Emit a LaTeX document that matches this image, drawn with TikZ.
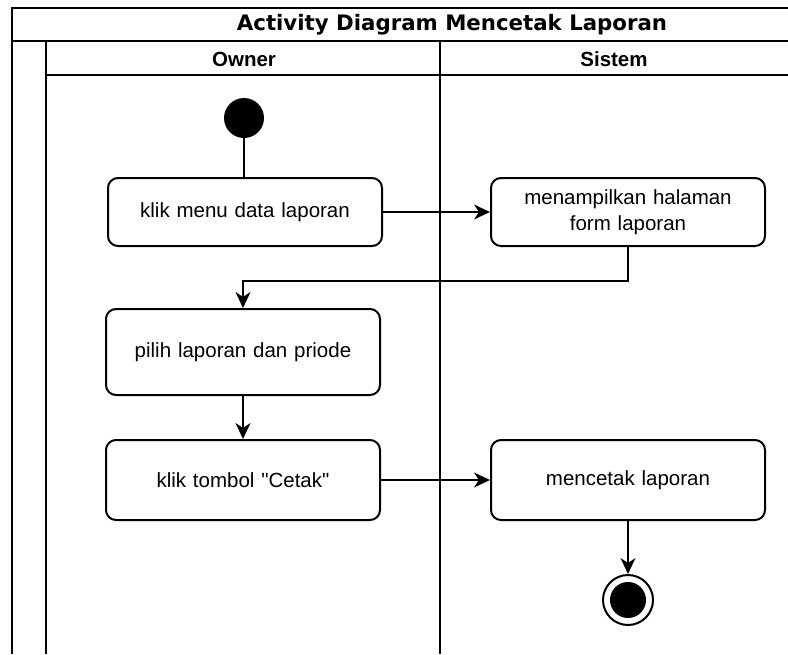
\documentclass[tikz,border=0pt]{standalone}
\usepackage{fontspec}
\setmainfont{Liberation Sans}
\newfontfamily\titlefont{DejaVu Sans}
\usetikzlibrary{arrows.meta}
\begin{document}
\begin{tikzpicture}[x=1pt,y=-1pt,
  frame/.style={line width=2pt, black},
  actbox/.style={draw, line width=2pt, rounded corners=10pt, minimum width=274pt,
    text width=260pt, align=center, font=\fontsize{20.5}{26}\selectfont, inner sep=0pt},
  flow/.style={line width=2pt, -{Stealth[length=16pt,width=15pt,inset=5pt]}},
  plain/.style={line width=2pt},
  lanehead/.style={font=\fontsize{20.5}{24}\selectfont\bfseries},
]
\useasboundingbox (0,0) rectangle (788,654);
\fill[white] (0,0) rectangle (788,654);

% pool frame, title row and lane headers
\draw[frame] (12,654) -- (12,8) -- (788,8);
\draw[frame] (12,41) -- (788,41);
\draw[frame] (46,75) -- (788,75);
\draw[frame] (46,41) -- (46,654);
\draw[frame] (440,41) -- (440,654);
\node[font=\titlefont\fontsize{21.3}{24}\selectfont\bfseries] (title) at (452,25) {Activity Diagram Mencetak Laporan};
\node[lanehead] (owner) at (244,59) {Owner};
\node[lanehead] (sistem) at (614,59) {Sistem};

% activity nodes
\node[circle, fill=black, minimum size=40pt, inner sep=0pt] (start) at (244,118) {};
\node[actbox, minimum height=68pt] (a1) at (245,212) {klik menu data laporan};
\node[actbox, minimum height=68pt] (a2) at (628,212) {menampilkan halaman\\form laporan};
\node[actbox, minimum height=86pt] (a3) at (243,352) {pilih laporan dan priode};
\node[actbox, minimum height=80pt] (a4) at (243,480) {klik tombol \textquotedbl Cetak\textquotedbl};
\node[actbox, minimum height=80pt] (a5) at (628,480) {mencetak laporan};
\node[circle, draw, line width=2pt, minimum size=50pt, inner sep=0pt] (end) at (628,600) {};
\fill (end.center) circle (18pt);

% control flow
\draw[plain] (start) -- (start |- a1.north);
\draw[flow] (a1) -- (a2);
\coordinate (bend) at (628,281);
\draw[flow] (a2.south) -- (bend) -| (a3.north);
\draw[flow] (a3) -- (a4);
\draw[flow] (a4) -- (a5);
\draw[flow] (a5) -- (end);
\end{tikzpicture}
\end{document}
